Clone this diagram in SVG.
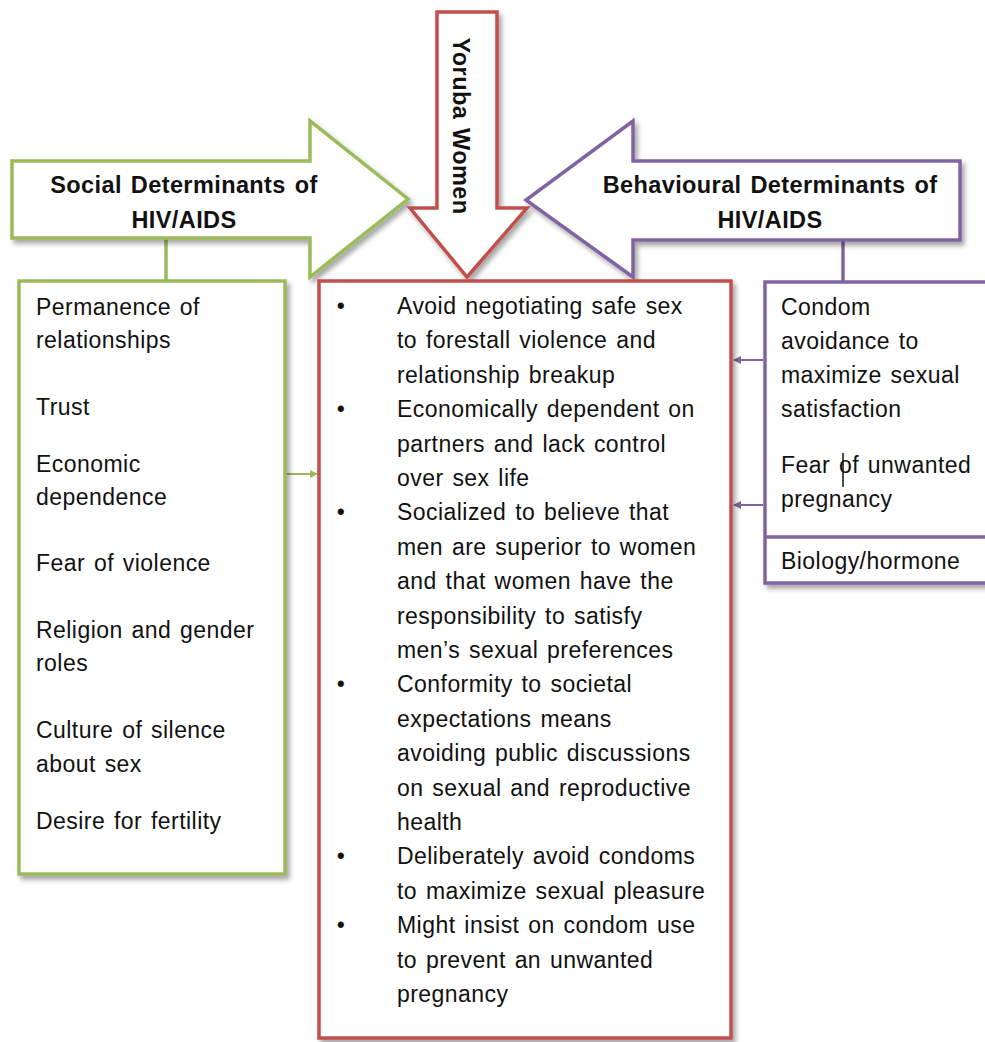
<svg xmlns="http://www.w3.org/2000/svg" width="985" height="1042" viewBox="0 0 985 1042">
<defs>
<filter id="sh" x="-10%" y="-10%" width="130%" height="130%">
<feDropShadow dx="3" dy="4" stdDeviation="2.5" flood-color="#000" flood-opacity="0.35"/>
</filter>
<marker id="ag" markerWidth="8" markerHeight="8" refX="7" refY="4" orient="auto" markerUnits="userSpaceOnUse"><path d="M0,0 L8,4 L0,8 Z" fill="#9BBB59"/></marker>
<marker id="ap" markerWidth="8" markerHeight="8" refX="7" refY="4" orient="auto" markerUnits="userSpaceOnUse"><path d="M0,0 L8,4 L0,8 Z" fill="#8064A2"/></marker>
<style>
.t{font-family:"Liberation Sans",Arial,sans-serif;font-size:23px;fill:#111;letter-spacing:0.45px;word-spacing:2px}
.h{font-family:"Liberation Sans",Arial,sans-serif;font-size:23.5px;font-weight:bold;fill:#111;letter-spacing:0.4px;word-spacing:2px}
.g{fill:#fff;stroke:#9BBB59;stroke-width:3.5}
.r{fill:#fff;stroke:#C0504D;stroke-width:3.5}
.p{fill:#fff;stroke:#8064A2;stroke-width:3.5}
</style>
</defs>
<rect width="985" height="1042" fill="#fff"/>
<g id="connectors">
<line x1="166" y1="238" x2="166" y2="281" stroke="#9BBB59" stroke-width="3.5"/>
<line x1="843" y1="241" x2="843" y2="283" stroke="#8064A2" stroke-width="3.5"/>
<line x1="286" y1="474" x2="317" y2="474" stroke="#9BBB59" stroke-width="2" marker-end="url(#ag)"/>
<line x1="763" y1="360" x2="734" y2="360" stroke="#8064A2" stroke-width="2" marker-end="url(#ap)"/>
<line x1="763" y1="505" x2="734" y2="505" stroke="#8064A2" stroke-width="2" marker-end="url(#ap)"/>
</g>
<g id="social-arrow">
<path class="g" filter="url(#sh)" d="M12,161 L310,161 L310,121 L408,199 L310,277 L310,238 L12,238 Z"/>
<text class="h" x="184" y="193" text-anchor="middle">Social Determinants of</text>
<text class="h" x="184" y="228" text-anchor="middle">HIV/AIDS</text>
</g>
<g id="behavioural-arrow">
<path class="p" filter="url(#sh)" d="M960,161 L633,161 L633,121 L526,200 L633,277 L633,240 L960,240 Z"/>
<text class="h" x="770" y="193" text-anchor="middle">Behavioural Determinants of</text>
<text class="h" x="770" y="228" text-anchor="middle">HIV/AIDS</text>
</g>
<g id="yoruba-arrow">
<path class="r" filter="url(#sh)" d="M437,12 L497,12 L497,208 L527,208 L467,277 L410,208 L437,208 Z"/>
<text class="h" transform="translate(453,126) rotate(90)" x="0" y="0" text-anchor="middle">Yoruba Women</text>
</g>
<g id="social-box">
<rect class="g" filter="url(#sh)" x="19" y="281" width="266" height="593"/>
<text class="t" x="36" y="315">Permanence of</text>
<text class="t" x="36" y="348">relationships</text>
<text class="t" x="36" y="415">Trust</text>
<text class="t" x="36" y="472">Economic</text>
<text class="t" x="36" y="505">dependence</text>
<text class="t" x="36" y="571">Fear of violence</text>
<text class="t" x="36" y="638">Religion and gender</text>
<text class="t" x="36" y="671">roles</text>
<text class="t" x="36" y="738">Culture of silence</text>
<text class="t" x="36" y="772">about sex</text>
<text class="t" x="36" y="829">Desire for fertility</text>
</g>
<g id="women-box">
<rect class="r" filter="url(#sh)" x="319" y="281" width="412" height="757"/>
<text class="t" x="341" y="314" text-anchor="middle">•</text>
<text class="t" x="341" y="417.2" text-anchor="middle">•</text>
<text class="t" x="341" y="520.4" text-anchor="middle">•</text>
<text class="t" x="341" y="692.4" text-anchor="middle">•</text>
<text class="t" x="341" y="864.4" text-anchor="middle">•</text>
<text class="t" x="341" y="933.2" text-anchor="middle">•</text>
<text class="t" x="397" y="314">Avoid negotiating safe sex</text>
<text class="t" x="397" y="348.4">to forestall violence and</text>
<text class="t" x="397" y="382.8">relationship breakup</text>
<text class="t" x="397" y="417.2">Economically dependent on</text>
<text class="t" x="397" y="451.6">partners and lack control</text>
<text class="t" x="397" y="486">over sex life</text>
<text class="t" x="397" y="520.4">Socialized to believe that</text>
<text class="t" x="397" y="554.8">men are superior to women</text>
<text class="t" x="397" y="589.2">and that women have the</text>
<text class="t" x="397" y="623.6">responsibility to satisfy</text>
<text class="t" x="397" y="658">men’s sexual preferences</text>
<text class="t" x="397" y="692.4">Conformity to societal</text>
<text class="t" x="397" y="726.8">expectations means</text>
<text class="t" x="397" y="761.2">avoiding public discussions</text>
<text class="t" x="397" y="795.6">on sexual and reproductive</text>
<text class="t" x="397" y="830">health</text>
<text class="t" x="397" y="864.4">Deliberately avoid condoms</text>
<text class="t" x="397" y="898.8">to maximize sexual pleasure</text>
<text class="t" x="397" y="933.2">Might insist on condom use</text>
<text class="t" x="397" y="967.6">to prevent an unwanted</text>
<text class="t" x="397" y="1002">pregnancy</text>
</g>
<g id="behaviour-box">
<rect class="p" filter="url(#sh)" x="765" y="282" width="240" height="301"/>
<line x1="765" y1="537" x2="990" y2="537" stroke="#8064A2" stroke-width="3.5"/>
<text class="t" x="781" y="315">Condom</text>
<text class="t" x="781" y="349">avoidance to</text>
<text class="t" x="781" y="383">maximize  sexual</text>
<text class="t" x="781" y="417">satisfaction</text>
<text class="t" x="781" y="473">Fear of unwanted</text>
<text class="t" x="781" y="507">pregnancy</text>
<text class="t" x="781" y="569">Biology/hormone</text>
<line x1="843" y1="453" x2="843" y2="487" stroke="#111" stroke-width="1.5"/>
</g>
</svg>
